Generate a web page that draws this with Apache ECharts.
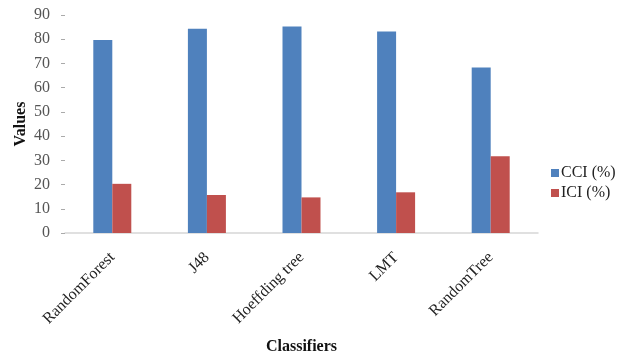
<!DOCTYPE html>
<html>
<head>
<meta charset="utf-8">
<script src="https://cdn.jsdelivr.net/npm/echarts@6/dist/echarts.min.js"></script>
<style>
  html, body { margin: 0; padding: 0; background: #fff; }
  #chart { width: 628px; height: 354px; }
</style>
</head>
<body>
<div id="chart"></div>
<script>
// Classifier accuracy: correctly (CCI) vs incorrectly (ICI) classified instances
const classifiers = ['RandomForest', 'J48', 'Hoeffding tree', 'LMT', 'RandomTree'];
const cciValues = [79.7, 84.3, 85.3, 83.2, 68.3];
const iciValues = [20.3, 15.7, 14.7, 16.8, 31.7];
const yTicks = { min: 0, max: 90, interval: 10 };

const serif = '"Liberation Serif", "DejaVu Serif", serif';
const chart = echarts.init(document.getElementById('chart'));

chart.setOption({
  animation: false,
  backgroundColor: '#ffffff',
  grid: {
    left: 65, right: 90, top: 15, bottom: 121,
    containLabel: false,
    outerBoundsMode: 'none'
  },
  legend: {
    orient: 'vertical',
    left: 546,
    top: 160,
    itemWidth: 8,
    itemHeight: 8,
    itemGap: 4,
    icon: 'rect',
    textStyle: { fontFamily: serif, fontSize: 16, color: '#222', padding: [0, 0, 0, -3] },
    data: ['CCI (%)', 'ICI (%)']
  },
  xAxis: {
    type: 'category',
    data: classifiers,
    name: 'Classifiers',
    nameLocation: 'middle',
    nameGap: 106,
    nameMoveOverlap: false,
    nameTextStyle: { fontFamily: serif, fontSize: 16, fontWeight: 'bold', color: '#111' },
    axisLine: { lineStyle: { color: '#d6d6d6', width: 1.5 } },
    axisTick: { show: false },
    axisLabel: { rotate: 45, margin: 22, fontFamily: serif, fontSize: 16, color: '#222' }
  },
  yAxis: {
    type: 'value',
    min: yTicks.min,
    max: yTicks.max,
    interval: yTicks.interval,
    name: 'Values',
    nameLocation: 'middle',
    nameGap: 36,
    nameMoveOverlap: false,
    nameTextStyle: { fontFamily: serif, fontSize: 16, fontWeight: 'bold', color: '#111' },
    axisLine: { show: false },
    axisTick: { show: true, length: 4, lineStyle: { color: '#aaa' } },
    splitLine: { show: false },
    axisLabel: { margin: 15, fontFamily: serif, fontSize: 16, color: '#555' }
  },
  series: [
    {
      name: 'CCI (%)',
      type: 'bar',
      data: cciValues,
      barWidth: 19,
      barGap: '0%',
      itemStyle: { color: '#4f81bd' }
    },
    {
      name: 'ICI (%)',
      type: 'bar',
      data: iciValues,
      barWidth: 19,
      barGap: '0%',
      itemStyle: { color: '#c0504d' }
    }
  ]
});
</script>
</body>
</html>
